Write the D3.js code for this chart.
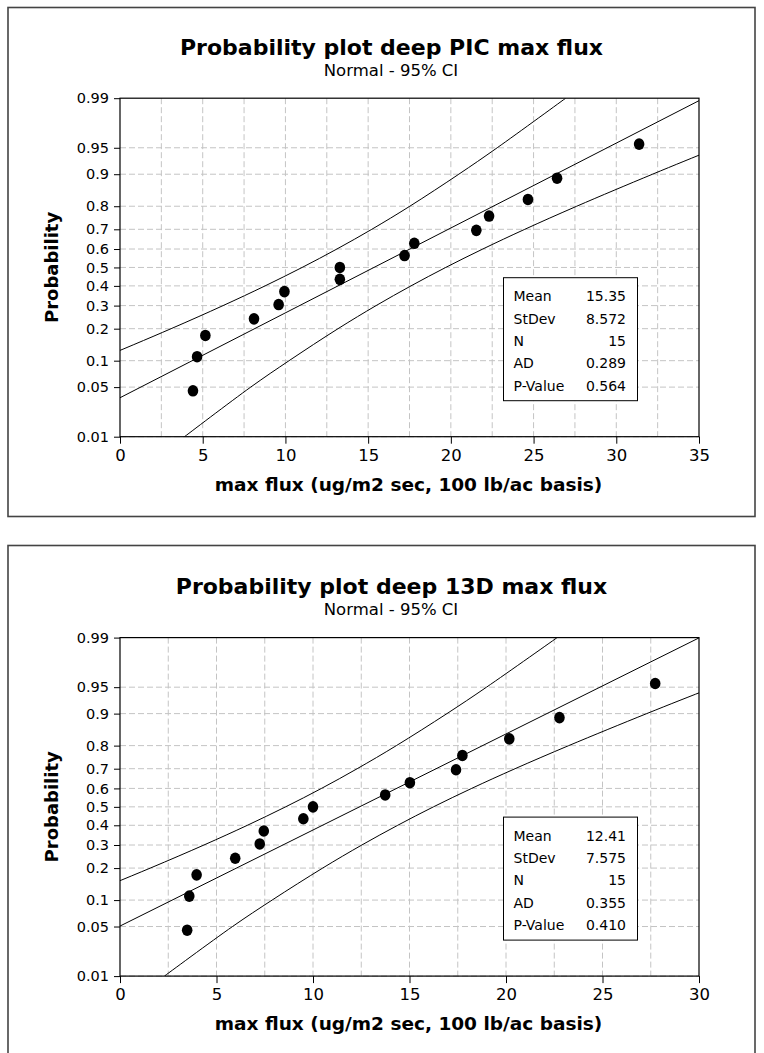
<!DOCTYPE html>
<html>
<head>
<meta charset="utf-8">
<script src="https://cdn.jsdelivr.net/npm/d3@7"></script>
<style>
body { margin: 0; background: #fff; }
svg { display: block; }
text { font-family: "DejaVu Sans", Verdana, sans-serif; fill: #000; }
</style>
</head>
<body>
<svg id="chart" width="764" height="1053"></svg>
<script>
// plotting positions as read on the probability axis
const rankProb = [0.045, 0.110, 0.175, 0.240, 0.305, 0.370, 0.435, 0.500, 0.565, 0.630, 0.695, 0.760, 0.825, 0.890, 0.955];

// deep PIC max flux
const picFlux = [4.41, 4.66, 5.16, 8.10, 9.59, 9.94, 13.29, 13.29, 17.20, 17.79, 21.54, 22.31, 24.66, 26.42, 31.38];
// deep 13D max flux
const d13Flux = [3.48, 3.59, 3.97, 5.97, 7.24, 7.45, 9.50, 10.00, 13.74, 15.02, 17.41, 17.74, 20.17, 22.77, 27.73];

// confidence band crossings at each probability gridline
const bandProb = [0.01, 0.05, 0.1, 0.2, 0.3, 0.4, 0.5, 0.6, 0.7, 0.8, 0.9, 0.95, 0.99];
const picUpper = [-12.94, -5.41, -1.49, 3.09, 6.23, 8.77, 11.01, 13.11, 15.22, 17.52, 20.48, 22.80, 26.94];
const picLower = [3.90, 7.90, 10.22, 13.18, 15.48, 17.59, 19.69, 21.93, 24.47, 27.61, 32.19, 36.11, 43.64];
const d13Upper = [-12.59, -5.93, -2.47, 1.57, 4.35, 6.60, 8.58, 10.44, 12.29, 14.32, 16.94, 18.99, 22.65];
const d13Lower = [2.30, 5.83, 7.88, 10.50, 12.53, 14.39, 16.24, 18.22, 20.47, 23.25, 27.29, 30.75, 37.41];

// fitted line ends (at 0.01 and 0.99)
const fitProb = [0.01, 0.99];
const picFit = [-4.59, 35.29];
const d13Fit = [-5.21, 30.03];

const probTicks = [0.01, 0.05, 0.1, 0.2, 0.3, 0.4, 0.5, 0.6, 0.7, 0.8, 0.9, 0.95, 0.99];
const probTickLabels = ["0.01", "0.05", "0.1", "0.2", "0.3", "0.4", "0.5", "0.6", "0.7", "0.8", "0.9", "0.95", "0.99"];

const statNames = ["Mean", "StDev", "N", "AD", "P-Value"];
const picStats = ["15.35", "8.572", "15", "0.289", "0.564"];
const d13Stats = ["12.41", "7.575", "15", "0.355", "0.410"];

const picTicksX = [0, 5, 10, 15, 20, 25, 30, 35];
const d13TicksX = [0, 5, 10, 15, 20, 25, 30];

// inverse normal cdf (Acklam)
const probit = p => {
    const a = [-3.969683028665376e+01, 2.209460984245205e+02, -2.759285104469687e+02, 1.383577518672690e+02, -3.066479806614716e+01, 2.506628277459239e+00];
    const b = [-5.447609879822406e+01, 1.615858368580409e+02, -1.556989798598866e+02, 6.680131188771972e+01, -1.328068155288572e+01];
    const c = [-7.784894002430293e-03, -3.223964580411365e-01, -2.400758277161838e+00, -2.549732539343734e+00, 4.374664141464968e+00, 2.938163982698783e+00];
    const d = [7.784695709041462e-03, 3.224671290700398e-01, 2.445134137142996e+00, 3.754408661907416e+00];
    const pl = 0.02425;
    let q, r;
    if (p < pl) {
        q = Math.sqrt(-2 * Math.log(p));
        return (((((c[0] * q + c[1]) * q + c[2]) * q + c[3]) * q + c[4]) * q + c[5]) / ((((d[0] * q + d[1]) * q + d[2]) * q + d[3]) * q + 1);
    }
    if (p > 1 - pl) {
        q = Math.sqrt(-2 * Math.log(1 - p));
        return -(((((c[0] * q + c[1]) * q + c[2]) * q + c[3]) * q + c[4]) * q + c[5]) / ((((d[0] * q + d[1]) * q + d[2]) * q + d[3]) * q + 1);
    }
    q = p - 0.5;
    r = q * q;
    return (((((a[0] * r + a[1]) * r + a[2]) * r + a[3]) * r + a[4]) * r + a[5]) * q / (((((b[0] * r + b[1]) * r + b[2]) * r + b[3]) * r + b[4]) * r + 1);
};

const svg = d3.select("#chart");

const drawChart = (cfg) => {
    const left = 120, right = 699;
    const top = cfg.top, bottom = cfg.top + 338.5;

    svg.append("rect")
        .attr("x", 8).attr("y", cfg.frameY)
        .attr("width", 747).attr("height", 509)
        .attr("fill", "none").attr("stroke", "#444").attr("stroke-width", 1.6);

    const x = d3.scaleLinear().domain([0, cfg.xMax]).range([left, right]);
    const y = d3.scaleLinear().domain([probit(0.01), probit(0.99)]).range([bottom, top]);

    const g = svg.append("g");

    // grid
    g.selectAll(".vgrid")
        .data(d3.range(2.5, cfg.xMax, 2.5))
        .join("line")
        .attr("x1", d => x(d)).attr("x2", d => x(d))
        .attr("y1", top).attr("y2", bottom)
        .attr("stroke", "#c4c4c4").attr("stroke-dasharray", "6,3");
    g.selectAll(".hgrid")
        .data(probTicks.slice(0, -1))
        .join("line")
        .attr("x1", left).attr("x2", right)
        .attr("y1", d => y(probit(d))).attr("y2", d => y(probit(d)))
        .attr("stroke", "#c4c4c4").attr("stroke-dasharray", "6,3");

    // axes
    const xAxis = g.append("g")
        .attr("transform", `translate(0,${bottom})`)
        .call(d3.axisBottom(x).tickValues(cfg.ticksX).tickSize(7).tickSizeOuter(0).tickPadding(6));
    xAxis.select(".domain").remove();
    xAxis.selectAll(".tick text").attr("font-size", 16.5).attr("font-family", "DejaVu Sans").attr("dy", "0.68em");

    const yAxis = g.append("g")
        .attr("transform", `translate(${left},0)`)
        .call(d3.axisLeft(y).tickValues(probTicks.map(probit)).tickSize(6).tickSizeOuter(0).tickPadding(5)
            .tickFormat((d, i) => probTickLabels[i]));
    yAxis.select(".domain").remove();
    yAxis.selectAll(".tick text").attr("font-size", 14.5).attr("font-family", "DejaVu Sans");

    // clip for curves
    const clipId = "clip-" + cfg.id;
    svg.append("clipPath").attr("id", clipId)
        .append("rect").attr("x", left).attr("y", top).attr("width", right - left).attr("height", bottom - top);

    const curves = g.append("g").attr("clip-path", `url(#${clipId})`);
    const line = d3.line()
        .x(d => x(d[0]))
        .y(d => y(probit(d[1])))
        .curve(d3.curveCatmullRom);

    [cfg.upper, cfg.lower].forEach(band => {
        curves.append("path")
            .attr("d", line(band.map((v, i) => [v, bandProb[i]])))
            .attr("fill", "none").attr("stroke", "#000").attr("stroke-width", 1);
    });
    curves.append("path")
        .attr("d", line(cfg.fit.map((v, i) => [v, fitProb[i]])))
        .attr("fill", "none").attr("stroke", "#000").attr("stroke-width", 1);

    // plot border
    g.append("rect")
        .attr("x", left).attr("y", top)
        .attr("width", right - left).attr("height", bottom - top)
        .attr("fill", "none").attr("stroke", "#000").attr("stroke-width", 1.2);

    // points
    g.selectAll(".pt")
        .data(cfg.flux)
        .join("ellipse")
        .attr("cx", d => x(d))
        .attr("cy", (d, i) => y(probit(rankProb[i])))
        .attr("rx", 5.3).attr("ry", 5.8)
        .attr("fill", "#000");

    // stats box
    const bx = 503.5, by = bottom - 36 - 123;
    const box = g.append("g");
    box.append("rect")
        .attr("x", bx).attr("y", by).attr("width", 134).attr("height", 123)
        .attr("fill", "#fff").attr("stroke", "#000").attr("stroke-width", 1);
    statNames.forEach((name, i) => {
        const yy = by + 18.5 + i * 22.4 + 5;
        box.append("text").attr("x", bx + 10).attr("y", yy)
            .attr("font-size", 14).text(name);
        box.append("text").attr("x", bx + 122.5).attr("y", yy)
            .attr("font-size", 14).attr("text-anchor", "end").text(cfg.stats[i]);
    });

    // titles
    svg.append("text")
        .attr("x", 391.5).attr("y", top - 43.5)
        .attr("text-anchor", "middle").attr("font-size", 22).attr("font-weight", "bold")
        .text(cfg.title);
    svg.append("text")
        .attr("x", 391).attr("y", top - 22.2)
        .attr("text-anchor", "middle").attr("font-size", 16.5)
        .text("Normal - 95% CI");
    svg.append("text")
        .attr("x", (left + right) / 2 - 1).attr("y", bottom + 54.3)
        .attr("text-anchor", "middle").attr("font-size", 18.5).attr("font-weight", "bold")
        .text("max flux (ug/m2 sec, 100 lb/ac basis)");
    svg.append("text")
        .attr("transform", `translate(58,${(top + bottom) / 2}) rotate(-90)`)
        .attr("text-anchor", "middle").attr("font-size", 18).attr("font-weight", "bold")
        .text("Probability");
};

drawChart({
    id: "pic", frameY: 7.5, top: 98.2, xMax: 35, ticksX: picTicksX,
    flux: picFlux, upper: picUpper, lower: picLower, fit: picFit, stats: picStats,
    title: "Probability plot deep PIC max flux"
});
drawChart({
    id: "d13", frameY: 545.5, top: 637.6, xMax: 30, ticksX: d13TicksX,
    flux: d13Flux, upper: d13Upper, lower: d13Lower, fit: d13Fit, stats: d13Stats,
    title: "Probability plot deep 13D max flux"
});
</script>
</body>
</html>
